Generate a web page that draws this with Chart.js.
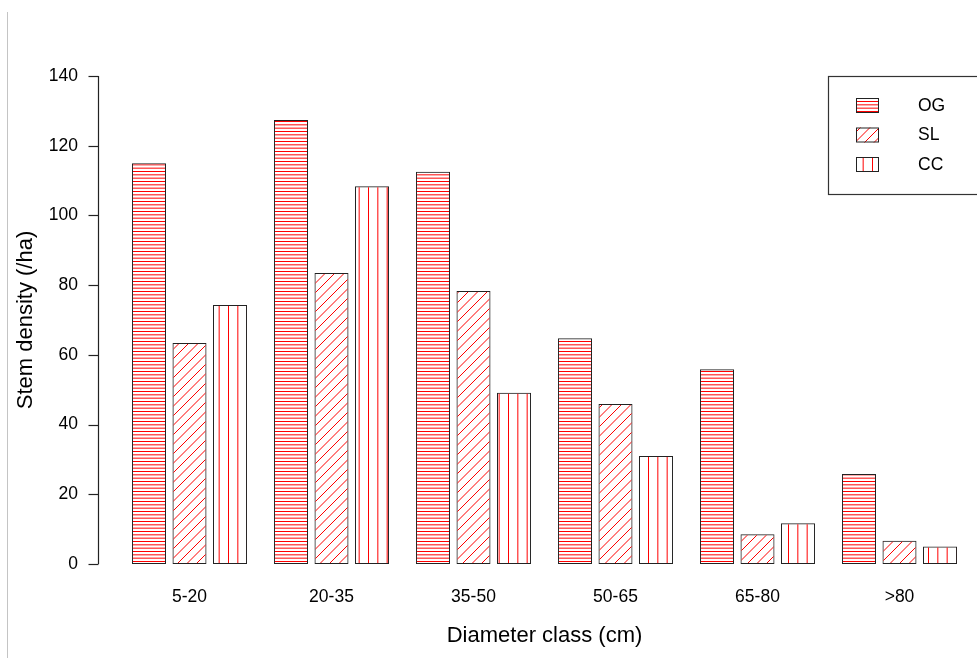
<!DOCTYPE html>
<html>
<head>
<meta charset="utf-8">
<script src="https://cdn.jsdelivr.net/npm/chart.js@4.4.1/dist/chart.umd.min.js"></script>
<style>
  html, body { margin: 0; padding: 0; background: #fff; }
  #wrap { width: 977px; height: 658px; position: relative; }
</style>
</head>
<body>
<div id="wrap"><canvas id="grafico" width="977" height="658"></canvas></div>
<script>
// --- Dados ---
const classes = ['5-20', '20-35', '35-50', '50-65', '65-80', '>80'];
const ogValues = [115.0, 127.4, 112.5, 64.8, 55.9, 25.8];
const slValues = [63.4, 83.5, 78.3, 45.9, 8.5, 6.7];
const ccValues = [74.3, 108.4, 49.1, 31.0, 11.7, 5.0];
const seriesNames = ['OG', 'SL', 'CC'];
const yTicks = [0, 20, 40, 60, 80, 100, 120, 140];

const FONT = "'Liberation Sans', Arial, sans-serif";
const HATCH = '#ff0000';
const EDGE = '#222222';

// Padrões de hachura (linhas vermelhas)
function hatchPattern(kind) {
    const c = document.createElement('canvas');
    const ctx = c.getContext('2d');
    if (kind === 'h') {
        c.width = 10; c.height = 10;
        ctx.strokeStyle = HATCH; ctx.lineWidth = 1;
        [1.5, 4.83, 8.17].forEach(y => {
            ctx.beginPath(); ctx.moveTo(0, y); ctx.lineTo(10, y); ctx.stroke();
        });
    } else if (kind === 'd') {
        c.width = 19; c.height = 19;
        ctx.strokeStyle = HATCH; ctx.lineWidth = 1;
        [0, 9.5, 19, 28.5, 38].forEach(k => {
            ctx.beginPath(); ctx.moveTo(k - 19, 19 + 0); ctx.lineTo(k, 0); ctx.stroke();
        });
    } else {
        c.width = 28; c.height = 10;
        ctx.strokeStyle = HATCH; ctx.lineWidth = 1;
        [4.5, 13.83, 23.17].forEach(x => {
            ctx.beginPath(); ctx.moveTo(x, 0); ctx.lineTo(x, 10); ctx.stroke();
        });
    }
    return ctx.createPattern(c, 'repeat');
}

const patterns = [hatchPattern('h'), hatchPattern('d'), hatchPattern('v')];

// Eixo Y no estilo R (linha separada da área do gráfico) + borda cinza à esquerda
const rAxisPlugin = {
    id: 'rAxis',
    beforeDraw(chart) {
        const ctx = chart.ctx;
        ctx.save();
        ctx.strokeStyle = '#c4c4c4';
        ctx.lineWidth = 1;
        ctx.beginPath(); ctx.moveTo(7.5, 12); ctx.lineTo(7.5, 658); ctx.stroke();
        ctx.restore();
    },
    afterDraw(chart) {
        const ctx = chart.ctx;
        const y = chart.scales.y;
        const x0 = chart.chartArea.left - 20;
        ctx.save();
        ctx.strokeStyle = EDGE;
        ctx.lineWidth = 1.2;
        ctx.beginPath();
        ctx.moveTo(x0, y.getPixelForValue(yTicks[0]));
        ctx.lineTo(x0, y.getPixelForValue(yTicks[yTicks.length - 1]));
        ctx.stroke();
        yTicks.forEach(v => {
            const py = Math.round(y.getPixelForValue(v)) + 0.5;
            ctx.beginPath(); ctx.moveTo(x0 - 10, py); ctx.lineTo(x0, py); ctx.stroke();
        });
        ctx.restore();
    }
};

// Legenda com moldura, como no R
const boxLegendPlugin = {
    id: 'boxLegend',
    afterDraw(chart) {
        const ctx = chart.ctx;
        ctx.save();
        ctx.strokeStyle = '#333333';
        ctx.lineWidth = 1.2;
        ctx.strokeRect(828.5, 76.5, 170, 118);
        chart.data.datasets.forEach((ds, i) => {
            const top = 98 + i * 29.5;
            ctx.fillStyle = ds.backgroundColor;
            ctx.fillRect(856, top, 23, 15);
            ctx.strokeStyle = EDGE;
            ctx.lineWidth = 1;
            ctx.strokeRect(856.5, top + 0.5, 22, 14);
            ctx.fillStyle = '#000';
            ctx.font = '17.5px ' + FONT;
            ctx.textBaseline = 'middle';
            ctx.textAlign = 'left';
            ctx.fillText(ds.label, 918, top + 8);
        });
        ctx.restore();
    }
};

const canvas = document.getElementById('grafico');
const valores = [ogValues, slValues, ccValues];

const datasets = seriesNames.map((name, i) => ({
    label: name,
    data: valores[i],
    backgroundColor: patterns[i],
    borderColor: EDGE,
    borderWidth: 1,
    borderSkipped: false,
    categoryPercentage: 0.856,
    barPercentage: 0.84
}));

new Chart(canvas, {
    type: 'bar',
    data: { labels: classes, datasets: datasets },
    options: {
        responsive: false,
        animation: false,
        layout: { padding: { left: 0, top: 76, right: 6.5, bottom: 0 } },
        plugins: {
            legend: { display: false },
            tooltip: { enabled: false }
        },
        scales: {
            x: {
                grid: { display: false, drawTicks: false },
                border: { display: false },
                ticks: {
                    color: '#000',
                    padding: 23,
                    font: { family: FONT, size: 17.5 },
                    maxRotation: 0
                },
                title: {
                    display: true,
                    text: 'Diameter class (cm)',
                    color: '#000',
                    font: { family: FONT, size: 22, lineHeight: 1.2 },
                    padding: { top: 0, bottom: 9 }
                },
                afterFit(scale) { scale.height = 94; }
            },
            y: {
                min: 0,
                max: 140,
                grid: { display: false, drawTicks: false },
                border: { display: false },
                ticks: {
                    stepSize: 20,
                    color: '#000',
                    padding: 40.5,
                    font: { family: FONT, size: 17.5 }
                },
                title: {
                    display: true,
                    text: 'Stem density (/ha)',
                    color: '#000',
                    font: { family: FONT, size: 22, lineHeight: 1.2 },
                    padding: { top: 13, bottom: 0 }
                },
                afterFit(scale) { scale.width = 118.5; }
            }
        }
    },
    plugins: [rAxisPlugin, boxLegendPlugin]
});
</script>
</body>
</html>
